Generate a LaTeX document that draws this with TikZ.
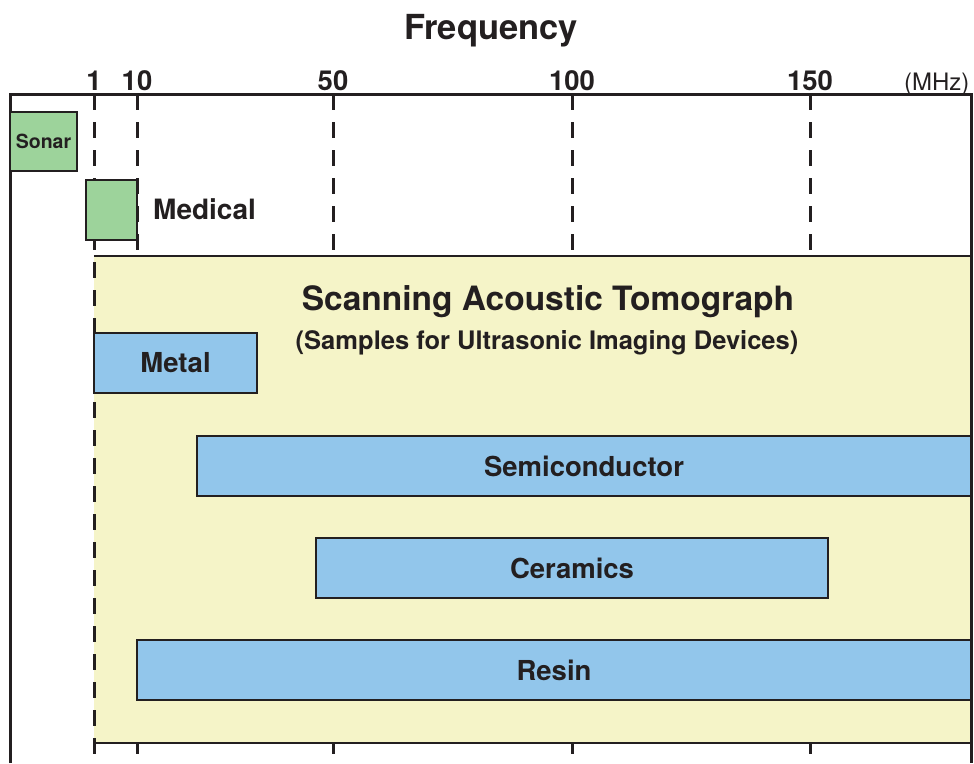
\documentclass[tikz,border=0pt]{standalone}
\usepackage{fontspec}
\setmainfont{TeX Gyre Heros}
\usepackage{xcolor}

\definecolor{inkdark}{HTML}{231F20}
\definecolor{sonargreen}{HTML}{9DD39B}
\definecolor{sampleblue}{HTML}{92C6EB}
\definecolor{satyellow}{HTML}{F5F4C8}

\begin{document}
\begin{tikzpicture}[x=1pt, y=-1pt,
    every node/.style={text=inkdark},
    freqline/.style={draw=inkdark, line width=3pt, dash pattern=on 16pt off 12pt},
    frameline/.style={draw=inkdark, line width=3pt},
    ticklabel/.style={anchor=base, font=\bfseries\fontsize{27.5}{27.5}\selectfont},
    greenbox/.style={draw=inkdark, line width=2pt, fill=sonargreen, inner sep=0pt},
    bluebox/.style={draw=inkdark, line width=2pt, fill=sampleblue, inner sep=0pt,
      minimum height=60pt, font=\bfseries\fontsize{27.5}{27.5}\selectfont}]
  \useasboundingbox (0,0) rectangle (974,763);

  % axis title and frequency marks
  \node[anchor=base, font=\bfseries\fontsize{34.5}{34.5}\selectfont] (freq) at (491,39) {Frequency};
  \foreach \f/\x in {1/94, 10/137, 50/333, 100/572, 150/810} {
    \coordinate (top-\f) at (\x,94);
    \coordinate (bot-\f) at (\x,763);
    \node[ticklabel] (lab-\f) at (\x,90) {\f};
  }
  \node[anchor=base east, font=\fontsize{24}{24}\selectfont] (unit) at (973,90) {(MHz)};

  \foreach \f in {1, 10, 50, 100, 150}
    \draw[freqline] (top-\f) -- (bot-\f);

  % scanning acoustic tomograph range
  \node[fill=satyellow, minimum width=877pt, minimum height=487pt, inner sep=0pt] (sat) at (532.5,499.5) {};
  \draw[draw=inkdark, line width=2pt] (sat.north west) -- (sat.north east);
  \draw[draw=inkdark, line width=2pt] (sat.south west) -- (sat.south east);
  \draw[freqline] (top-1) -- (bot-1);
  \node[font=\bfseries\fontsize{33.5}{33.5}\selectfont] (sattitle) at (548,302) {Scanning Acoustic Tomograph};
  \node[font=\bfseries\fontsize{25.5}{25.5}\selectfont] (satsub) at (547,343) {(Samples for Ultrasonic Imaging Devices)};

  % frame
  \coordinate (fr-tl) at (10,94);
  \coordinate (fr-tr) at (971,94);
  \coordinate (fr-bl) at (10,763);
  \coordinate (fr-br) at (971,763);
  \draw[frameline] (fr-bl) -- (fr-tl) -- (fr-tr) -- (fr-br);

  % sonar and medical
  \node[greenbox, minimum width=67pt, minimum height=59pt, font=\bfseries\fontsize{19.5}{19.5}\selectfont] (sonar) at (43.5,141.5) {Sonar};
  \node[greenbox, minimum width=51pt, minimum height=60pt] (medical) at (111.5,210) {};
  \node[anchor=west, inner sep=0pt, font=\bfseries\fontsize{28}{28}\selectfont] (medlabel) at (153,209) {Medical};

  % samples
  \node[bluebox, minimum width=163pt] (metal) at (175.5,363) {Metal};
  \node[bluebox, minimum width=774pt] (semi) at (584,466) {Semiconductor};
  \node[bluebox, minimum width=512pt] (ceramics) at (572,568) {Ceramics};
  \node[bluebox, minimum width=834pt] (resin) at (554,670) {Resin};

  \draw[frameline] (fr-tr) -- (fr-br);
\end{tikzpicture}
\end{document}
